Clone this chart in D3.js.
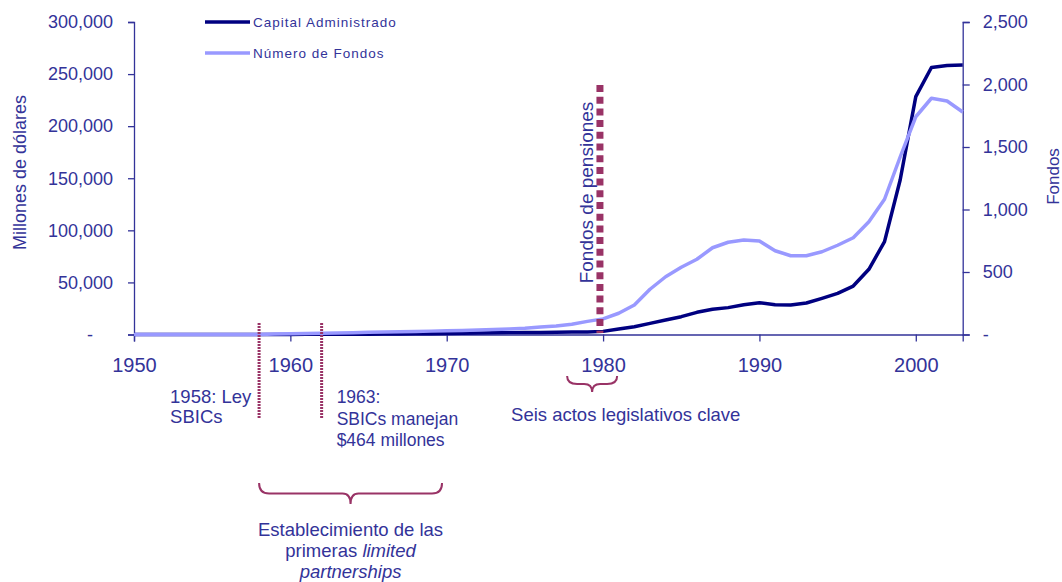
<!DOCTYPE html>
<html lang="es">
<head>
<meta charset="UTF-8">
<title>Capital administrado y número de fondos</title>
<script src="https://d3js.org/d3.v7.min.js"></script>
<style>
  body { margin: 0; background: #fff; }
  text { font-family: "Liberation Sans", Arial, sans-serif; fill: #333399; }
</style>
</head>
<body>
<script>
// años del eje x
const anios = [1950, 1951, 1952, 1953, 1954, 1955, 1956, 1957, 1958, 1959,
  1960, 1961, 1962, 1963, 1964, 1965, 1966, 1967, 1968, 1969,
  1970, 1971, 1972, 1973, 1974, 1975, 1976, 1977, 1978, 1979,
  1980, 1981, 1982, 1983, 1984, 1985, 1986, 1987, 1988, 1989,
  1990, 1991, 1992, 1993, 1994, 1995, 1996, 1997, 1998, 1999,
  2000, 2001, 2002, 2003];

// Capital Administrado (millones de dólares)
const capital = [0, 0, 0, 0, 0, 0, 0, 0, 0, 50,
  100, 150, 200, 250, 300, 350, 400, 500, 650, 800,
  1000, 1200, 1400, 1600, 1800, 1900, 2000, 2100, 2300, 2500,
  3000, 5300, 7500, 10700, 13900, 17100, 21300, 24200, 25800, 28600,
  30500, 28500, 28300, 30200, 34700, 39500, 46500, 62600, 89100, 148300,
  228300, 256300, 258300, 258700];

// Número de Fondos
const fondos = [0, 0, 0, 0, 0, 0, 0, 0, 0, 4,
  6, 8, 10, 12, 14, 18, 20, 22, 24, 27,
  30, 32, 36, 40, 44, 50, 60, 68, 82, 105,
  125, 170, 236, 362, 462, 538, 602, 694, 738, 756,
  748, 670, 630, 630, 662, 714, 774, 902, 1082, 1420,
  1742, 1890, 1868, 1780];

const ticksX = [1950, 1960, 1970, 1980, 1990, 2000];
const ticksIzq = [0, 50000, 100000, 150000, 200000, 250000, 300000];
const ticksDer = [0, 500, 1000, 1500, 2000, 2500];

const colorTexto = "#333399";
const colorCapital = "#000080";
const colorFondos = "#9999ff";
const colorMarca = "#993366";

const svg = d3.select("body").append("svg")
  .attr("width", 1062)
  .attr("height", 582);

const x = d3.scaleLinear().domain([1950, 2003]).range([134, 962.7]);
const yIzq = d3.scaleLinear().domain([0, 300000]).range([334.5, 22]);
const yDer = d3.scaleLinear().domain([0, 2500]).range([334.5, 22]);

const fmt = d3.format(",");

// eje x
const ejeX = svg.append("g")
  .attr("transform", "translate(0,334.5)")
  .call(d3.axisBottom(x).tickValues(ticksX).tickFormat(d3.format("d")).tickSize(7).tickPadding(16));
ejeX.selectAll("text").attr("font-size", 20);

// eje izquierdo
const ejeIzq = svg.append("g")
  .attr("transform", "translate(134,0)")
  .call(d3.axisLeft(yIzq).tickValues(ticksIzq).tickFormat(d => d === 0 ? "-" : fmt(d)).tickSize(6).tickPadding(15));
ejeIzq.selectAll("text").attr("font-size", 18)
  .attr("dx", d => d === 0 ? -20 : 0);

// eje derecho
const ejeDer = svg.append("g")
  .attr("transform", "translate(962.7,0)")
  .call(d3.axisRight(yDer).tickValues(ticksDer).tickFormat(d => d === 0 ? "-" : fmt(d)).tickSize(7).tickPadding(13));
ejeDer.selectAll("text").attr("font-size", 18);

svg.selectAll(".domain, .tick line").attr("stroke", colorTexto).attr("stroke-width", 1.3);
svg.selectAll(".tick text").attr("fill", colorTexto).attr("font-family", "Liberation Sans, Arial, sans-serif");

// títulos de ejes
svg.append("text")
  .attr("transform", "translate(25.5,250) rotate(-90)")
  .attr("font-size", 18)
  .text("Millones de dólares");

svg.append("text")
  .attr("transform", "translate(1059,176.5) rotate(-90)")
  .attr("text-anchor", "middle")
  .attr("font-size", 17)
  .text("Fondos");

// líneas
const lineaCapital = d3.line()
  .x((d, i) => x(anios[i]))
  .y(d => yIzq(d));
const lineaFondos = d3.line()
  .x((d, i) => x(anios[i]))
  .y(d => yDer(d));

svg.append("path")
  .datum(capital)
  .attr("fill", "none")
  .attr("stroke", colorCapital)
  .attr("stroke-width", 3.5)
  .attr("stroke-linejoin", "round")
  .attr("d", lineaCapital);

svg.append("path")
  .datum(fondos)
  .attr("fill", "none")
  .attr("stroke", colorFondos)
  .attr("stroke-width", 3.5)
  .attr("stroke-linejoin", "round")
  .attr("d", lineaFondos);

// leyenda
const leyenda = [
  { nombre: "Capital Administrado", color: colorCapital, y: 22 },
  { nombre: "Número de Fondos", color: colorFondos, y: 53 }
];
leyenda.forEach(l => {
  svg.append("line")
    .attr("x1", 205).attr("x2", 250)
    .attr("y1", l.y).attr("y2", l.y)
    .attr("stroke", l.color).attr("stroke-width", 3.5);
  svg.append("text")
    .attr("x", 253).attr("y", l.y + 5)
    .attr("font-size", 13.5)
    .attr("letter-spacing", 1)
    .text(l.nombre);
});

// líneas punteadas de eventos
[1958, 1962].forEach(a => {
  svg.append("line")
    .attr("x1", x(a)).attr("x2", x(a))
    .attr("y1", 323).attr("y2", 418)
    .attr("stroke", colorMarca)
    .attr("stroke-width", 3)
    .attr("stroke-dasharray", "2,1");
});

// fondos de pensiones
svg.append("line")
  .attr("x1", x(1979.8)).attr("x2", x(1979.8))
  .attr("y1", 85).attr("y2", 333)
  .attr("stroke", colorMarca)
  .attr("stroke-width", 7)
  .attr("stroke-dasharray", "7,4.7");

svg.append("text")
  .attr("transform", "translate(593,192.5) rotate(-90)")
  .attr("text-anchor", "middle")
  .attr("font-size", 19)
  .text("Fondos de pensiones");

// anotaciones
function bloque(lineas, xPos, yPos, salto, anchor, tam) {
  const t = svg.append("text")
    .attr("font-size", tam || 18.5)
    .attr("text-anchor", anchor || "start");
  lineas.forEach((l, i) => {
    const ts = t.append("tspan").attr("x", xPos).attr("y", yPos + i * salto);
    l.forEach(p => {
      ts.append("tspan").attr("font-style", p.it ? "italic" : "normal").text(p.t);
    });
  });
}

bloque([[{ t: "1958: Ley" }], [{ t: "SBICs" }]], x(1958) - 89, 403, 20);
bloque([[{ t: "1963:" }], [{ t: "SBICs manejan" }], [{ t: "$464 millones" }]], x(1962) + 15, 403, 21.5, "start", 17.5);
bloque([[{ t: "Seis actos legislativos clave" }]], x(1980) - 92, 421, 20);

// llaves
function llave(x0, x1, yTop, alto) {
  const xm = (x0 + x1) / 2;
  const h = alto / 2;
  const p = d3.path();
  p.moveTo(x0, yTop);
  p.quadraticCurveTo(x0, yTop + h, x0 + 10, yTop + h);
  p.lineTo(xm - 8, yTop + h);
  p.quadraticCurveTo(xm, yTop + h, xm, yTop + alto);
  p.quadraticCurveTo(xm, yTop + h, xm + 8, yTop + h);
  p.lineTo(x1 - 10, yTop + h);
  p.quadraticCurveTo(x1, yTop + h, x1, yTop);
  svg.append("path")
    .attr("d", p.toString())
    .attr("fill", "none")
    .attr("stroke", colorMarca)
    .attr("stroke-width", 2);
}

llave(x(1977.7), x(1980.9), 376, 16);
llave(x(1958), x(1969.7), 483, 21);

bloque([
  [{ t: "Establecimiento de las" }],
  [{ t: "primeras " }, { t: "limited", it: true }],
  [{ t: "partnerships", it: true }]
], (x(1958) + x(1969.7)) / 2, 536, 21, "middle");
</script>
</body>
</html>
